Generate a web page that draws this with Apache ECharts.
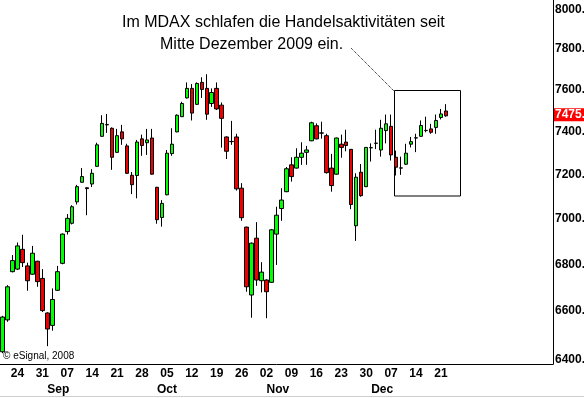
<!DOCTYPE html>
<html><head><meta charset="utf-8">
<script src="https://cdn.jsdelivr.net/npm/echarts@6/dist/echarts.min.js"></script>
<style>html,body{margin:0;padding:0;background:#fff}#c{width:584px;height:398px}</style>
</head><body><div id="c"></div>
<script>
const dates = [
'2009-08-19','2009-08-20','2009-08-21','2009-08-24','2009-08-25','2009-08-26','2009-08-27','2009-08-28','2009-08-31',
'2009-09-01','2009-09-02','2009-09-03','2009-09-04','2009-09-07','2009-09-08','2009-09-09','2009-09-10','2009-09-11',
'2009-09-14','2009-09-15','2009-09-16','2009-09-17','2009-09-18','2009-09-21','2009-09-22','2009-09-23','2009-09-24','2009-09-25',
'2009-09-28','2009-09-29','2009-09-30','2009-10-01','2009-10-02','2009-10-05','2009-10-06','2009-10-07','2009-10-08','2009-10-09',
'2009-10-12','2009-10-13','2009-10-14','2009-10-15','2009-10-16','2009-10-19','2009-10-20','2009-10-21','2009-10-22','2009-10-23',
'2009-10-26','2009-10-27','2009-10-28','2009-10-29','2009-10-30','2009-11-02','2009-11-03','2009-11-04','2009-11-05','2009-11-06',
'2009-11-09','2009-11-10','2009-11-11','2009-11-12','2009-11-13','2009-11-16','2009-11-17','2009-11-18','2009-11-19','2009-11-20',
'2009-11-23','2009-11-24','2009-11-25','2009-11-26','2009-11-27','2009-11-30','2009-12-01','2009-12-02','2009-12-03','2009-12-04',
'2009-12-07','2009-12-08','2009-12-09','2009-12-10','2009-12-11','2009-12-14','2009-12-15','2009-12-16','2009-12-17','2009-12-18',
'2009-12-21','2009-12-22'];
const openV  = [6431,6563,6768,6779,6865,6793,6757,6813,6739,6592,6540,6688,6804,6943,6980,7076,7165,7140,7157,7238,7378,7432,7416,7303,7399,7333,7197,7196,7366,7348,7370,7142,7006,7108,7297,7399,7471,7561,7607,7530,7636,7607,7534,7607,7526,7375,7353,7375,7138,6963,6668,6914,6729,6732,6722,6932,7046,7122,7245,7230,7280,7303,7357,7428,7393,7381,7230,7202,7341,7351,7317,6969,7211,7145,7324,7345,7314,7405,7425,7280,7230,7248,7341,7370,7378,7405,7413,7420,7467,7498];
const closeV = [6575,6703,6816,6880,6807,6729,6848,6725,6602,6525,6649,6768,6932,7002,7054,7145,7191,7136,7206,7338,7439,7434,7280,7381,7366,7206,7154,7351,7335,7361,7202,6996,7069,7299,7341,7478,7534,7607,7488,7631,7602,7483,7587,7508,7463,7308,7354,7135,7005,6703,6892,6732,6766,6682,6951,7016,7084,7227,7191,7280,7299,7314,7442,7366,7394,7209,7150,7370,7326,7335,7064,7188,7104,7326,7325,7346,7416,7437,7291,7234,7231,7299,7353,7371,7429,7406,7397,7453,7484,7475];
const lowV   = [6425,6555,6765,6775,6788,6686,6755,6703,6596,6454,6518,6685,6800,6930,6975,7064,7163,7016,7143,7236,7376,7394,7222,7300,7338,7203,7111,7092,7287,7291,7200,6978,6965,7106,7287,7397,7469,7558,7453,7527,7561,7456,7518,7503,7325,7272,7338,7127,6991,6682,6572,6707,6679,6570,6720,6797,6991,7120,7168,7228,7245,7245,7355,7364,7367,7205,7122,7200,7278,7308,7043,6902,7099,7143,7260,7318,7283,7345,7265,7196,7199,7245,7326,7304,7376,7397,7390,7390,7458,7471];
const highV  = [6580,6710,6840,6895,6929,6807,6880,6815,6779,6595,6696,6793,6935,7021,7061,7153,7230,7142,7225,7348,7478,7484,7420,7413,7432,7343,7212,7361,7386,7413,7413,7144,7084,7314,7416,7482,7542,7636,7628,7636,7661,7676,7607,7636,7539,7378,7451,7390,7161,6965,6895,6985,6809,6735,6955,7054,7138,7235,7280,7322,7350,7333,7447,7439,7447,7390,7296,7372,7386,7409,7318,7206,7249,7328,7345,7409,7456,7481,7481,7311,7283,7343,7375,7390,7453,7471,7437,7481,7508,7531];
const yTicks = [6400,6600,6800,7000,7200,7400,7600,7800,8000];
const monthNames = ['Jan','Feb','Mar','Apr','May','Jun','Jul','Aug','Sep','Oct','Nov','Dec'];
const noteLine1 = 'Im MDAX schlafen die Handelsaktivitäten seit';
const noteLine2 = 'Mitte Dezember 2009 ein.';
const copyright = '\u00a9 eSignal, 2008';

const PAD = 21;
const cats = dates.concat(Array(PAD).fill(''));
const candles = openV.map((o, i) => [Math.log(o), Math.log(closeV[i]), Math.log(lowV[i]), Math.log(highV[i])]);
const lastClose = closeV[closeV.length - 1];
const FONT = 'Liberation Sans, Arial, sans-serif';

const chart = echarts.init(document.getElementById('c'), null, {renderer: 'canvas'});
chart.setOption({
  animation: false,
  backgroundColor: '#fff',
  grid: {left: 0, right: 31, top: 0, bottom: 34, containLabel: false, outerBoundsMode: 'none'},
  xAxis: [{
    type: 'category', data: cats, boundaryGap: true,
    axisLine: {show: true, onZero: false, lineStyle: {color: '#000', width: 1}},
    axisTick: {show: false},
    axisLabel: {
      interval: (i, v) => !!v && new Date(v).getUTCDay() === 1,
      formatter: v => v ? v.slice(8) : '',
      color: '#000', fontWeight: 'bold', fontSize: 12, fontFamily: FONT, margin: 4
    },
    splitLine: {show: false}
  }, {
    type: 'category', data: cats, boundaryGap: true, position: 'bottom', offset: 16,
    axisLine: {show: false}, axisTick: {show: false},
    axisLabel: {
      interval: (i, v) => i > 0 && !!v && v.slice(5, 7) !== (cats[i - 1] || '').slice(5, 7),
      formatter: v => v ? monthNames[+v.slice(5, 7) - 1] : '',
      align: 'left', color: '#000', fontWeight: 'bold', fontSize: 12, fontFamily: FONT, margin: 4
    },
    splitLine: {show: false}
  }],
  yAxis: {
    type: 'value', position: 'right',
    min: Math.log(6381), max: Math.log(8048),
    axisLine: {show: true, lineStyle: {color: '#000', width: 1}},
    axisTick: {show: false},
    splitLine: {show: false},
    axisLabel: {
      customValues: yTicks.map(Math.log),
      formatter: v => Math.round(Math.exp(v)) + '.00',
      align: 'left', margin: 2, color: '#000', fontWeight: 'bold', fontSize: 12, fontFamily: FONT
    }
  },
  series: [{
    type: 'candlestick', xAxisIndex: 0,
    data: candles, barWidth: 4,
    itemStyle: {color: '#00ff00', color0: '#ee0000', borderColor: '#000', borderColor0: '#000', borderWidth: 1},
    markLine: {
      silent: true, symbol: 'none',
      lineStyle: {color: 'rgba(0,0,0,0)', width: 0},
      data: [{yAxis: Math.log(lastClose)}],
      label: {
        show: true, position: 'end', distance: 1,
        formatter: () => lastClose.toFixed(2),
        backgroundColor: '#ff0000', color: '#fff', fontWeight: 'bold', fontSize: 12, fontFamily: FONT,
        padding: [1, 2, 0, 1]
      }
    }
  }],
  graphic: [
    {type: 'text', left: 122, top: 15, style: {text: noteLine1, font: '16px ' + FONT, fill: '#000'}},
    {type: 'text', left: 160, top: 37, style: {text: noteLine2, font: '16px ' + FONT, fill: '#000'}},
    {type: 'line', shape: {x1: 351, y1: 48, x2: 394, y2: 91}, style: {stroke: '#000', lineWidth: 1, lineDash: [1, 1]}},
    {type: 'rect', shape: {x: 394.5, y: 90.5, width: 66, height: 105.5}, style: {stroke: '#000', lineWidth: 1, fill: 'none'}},
    {type: 'text', left: 3, top: 351, style: {text: copyright, font: '10px ' + FONT, fill: '#000'}},
    {type: 'line', shape: {x1: 0, y1: 396.5, x2: 584, y2: 396.5}, style: {stroke: '#cfcfcf', lineWidth: 1}}
  ]
});
</script>
</body></html>
